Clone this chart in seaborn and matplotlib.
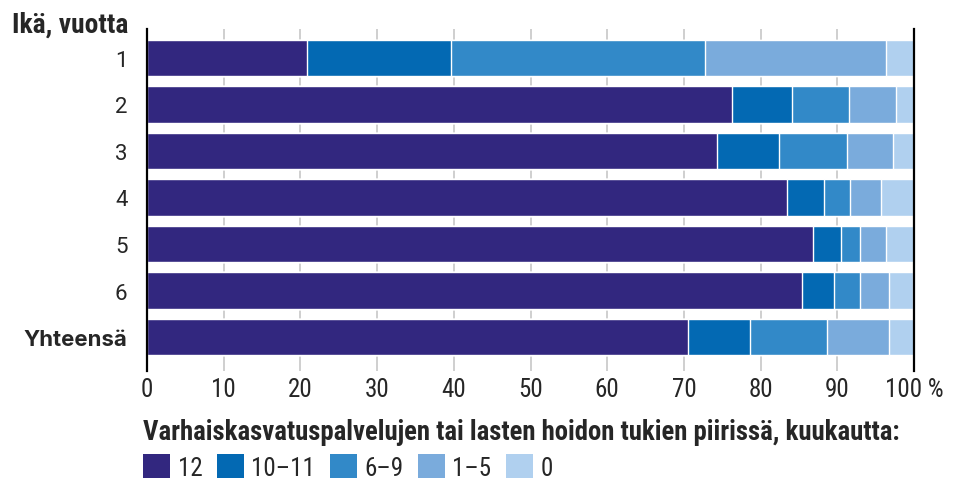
import matplotlib
matplotlib.use("Agg")
import matplotlib.pyplot as plt
from matplotlib import font_manager
from matplotlib.patches import Patch
import seaborn as sns
import pandas as pd
import numpy as np

# ---- data ----
categories = ["1", "2", "3", "4", "5", "6", "Yhteensä"]
series_names = ["12", "10–11", "6–9", "1–5", "0"]
v12 = [20.8, 76.3, 74.3, 83.5, 86.8, 85.4, 70.5]
v10_11 = [18.8, 7.8, 8.1, 4.8, 3.7, 4.2, 8.1]
v6_9 = [33.1, 7.4, 8.8, 3.3, 2.5, 3.3, 10.0]
v1_5 = [23.6, 6.2, 6.1, 4.1, 3.4, 3.9, 8.1]
v0 = [3.7, 2.3, 2.7, 4.3, 3.6, 3.1, 3.3]
xticks = [0, 10, 20, 30, 40, 50, 60, 70, 80, 90, 100]
xtick_labels = ["0", "10", "20", "30", "40", "50", "60", "70", "80", "90", "100 %"]
colors = ["#32277f", "#0369b3", "#3289c8", "#7aabdc", "#b0d0ef"]
y_title = "Ikä, vuotta"
legend_title = "Varhaiskasvatuspalvelujen tai lasten hoidon tukien piirissä, kuukautta:"


def has_font(name):
    try:
        font_manager.findfont(font_manager.FontProperties(family=name),
                              fallback_to_default=False)
        return True
    except Exception:
        return False

narrow = "Roboto"
for cand in ["Roboto Condensed", "Liberation Sans Narrow", "Arial Narrow",
             "Open Sans Condensed", "Noto Sans Condensed", "Roboto"]:
    if has_font(cand):
        narrow = cand
        break
regular = "Roboto" if has_font("Roboto") else "DejaVu Sans"
wide_bold = "Inter" if has_font("Inter") else regular

sns.set_theme(style="white")
plt.rcParams["font.family"] = [regular, "DejaVu Sans"]

vals = [v12, v10_11, v6_9, v1_5, v0]
cum = np.cumsum(np.array(vals), axis=0)

fig = plt.figure(figsize=(9.64, 4.81), dpi=100)
ax = fig.add_axes([147 / 964, 1 - 372 / 481, (914 - 147) / 964, (372 - 30) / 481])

# gridlines behind bars
for t in xticks[1:-1]:
    ax.axvline(t, color="#cfcfcf", lw=1.4, zorder=0)

# stacked bars: draw cumulative totals from largest to smallest
for i in range(len(vals) - 1, -1, -1):
    d = pd.DataFrame({"cat": categories, "val": cum[i]})
    sns.barplot(data=d, x="val", y="cat", order=categories, orient="h",
                color=colors[i], saturation=1, width=0.78,
                edgecolor="white", linewidth=1.0, ax=ax, zorder=2)

ax.set_xlim(0, 100)
ax.set_ylim(6.73, -0.62)
ax.set_xlabel("")
ax.set_ylabel("")
ax.grid(False)

for s in ["top", "bottom"]:
    ax.spines[s].set_visible(False)
for s in ["left", "right"]:
    ax.spines[s].set_visible(True)
    ax.spines[s].set_color("black")
    ax.spines[s].set_linewidth(1.6)
    ax.spines[s].set_zorder(5)

ax.set_xticks(xticks)
ax.set_xticklabels(xtick_labels, fontsize=18, family=[narrow, "DejaVu Sans"])
ax.tick_params(axis="x", length=0, pad=4)
ax.tick_params(axis="y", length=0, pad=14)
ax.set_yticks(range(len(categories)))
ax.set_yticklabels(categories, fontsize=16)
ylab_total = None
for lab in ax.get_yticklabels():
    if lab.get_text() == "Yhteensä":
        lab.set_fontweight("bold")
        lab.set_family([wide_bold, "DejaVu Sans"])
        ylab_total = lab

t_y = fig.text(12 / 964, 1 - 25 / 481, y_title, fontsize=16.5, fontweight="bold",
               family=[narrow, "DejaVu Sans"], ha="left", va="center")

t_leg = fig.text(143 / 964, 1 - 432 / 481, legend_title, fontsize=16,
                 fontweight="bold", family=[narrow, "DejaVu Sans"],
                 ha="left", va="center")

handles = [Patch(facecolor=c, edgecolor="none") for c in colors]
fig.legend(handles, series_names, ncol=5, loc="center left",
           bbox_to_anchor=(143 / 964, 1 - 468 / 481), frameon=False,
           prop={"family": [narrow, "DejaVu Sans"], "size": 18},
           handlelength=1.08, handleheight=1.08,
           handletextpad=0.3, columnspacing=0.58, borderpad=0, borderaxespad=0)

# fit widths of a few texts to the reference widths (in pixels)
fig.canvas.draw()
r = fig.canvas.get_renderer()
for txt, target in [(t_y, 116), (t_leg, 755), (ylab_total, 104)]:
    if txt is None:
        continue
    w = txt.get_window_extent(r).width
    if w > 0:
        txt.set_fontsize(txt.get_fontsize() * target / w)

fig.savefig("out.png", dpi=100)
